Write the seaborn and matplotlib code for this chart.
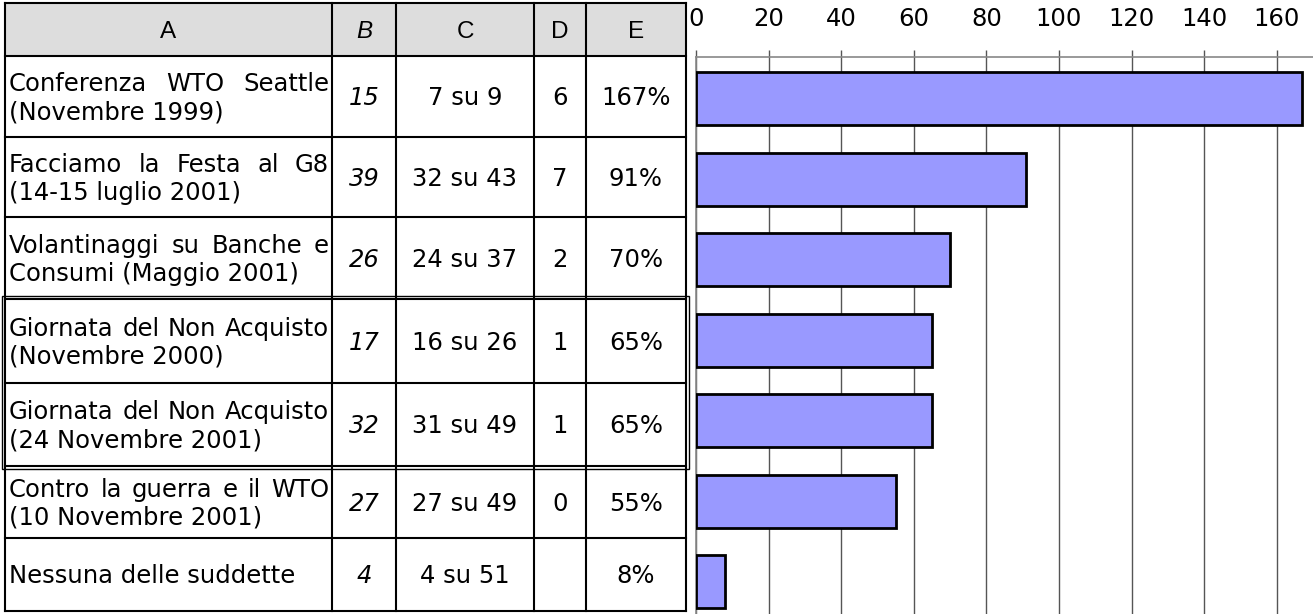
import matplotlib
matplotlib.use("Agg")
import matplotlib.pyplot as plt
from matplotlib.patches import Rectangle
import pandas as pd
import seaborn as sns

# Table contents
headers = ["A", "B", "C", "D", "E"]
events = [
    ["Conferenza WTO Seattle", "(Novembre 1999)"],
    ["Facciamo la Festa al G8", "(14-15 luglio 2001)"],
    ["Volantinaggi su Banche e", "Consumi (Maggio 2001)"],
    ["Giornata del Non Acquisto", "(Novembre 2000)"],
    ["Giornata del Non Acquisto", "(24 Novembre 2001)"],
    ["Contro la guerra e il WTO", "(10 Novembre 2001)"],
    ["Nessuna delle suddette"],
]
col_b = [15, 39, 26, 17, 32, 27, 4]
col_c = ["7 su 9", "32 su 43", "24 su 37", "16 su 26", "31 su 49", "27 su 49", "4 su 51"]
col_d = ["6", "7", "2", "1", "1", "0", ""]
col_e = [167, 91, 70, 65, 65, 55, 8]
x_ticks = [0, 20, 40, 60, 80, 100, 120, 140, 160]

W, H = 1313, 614
FONT = "DejaVu Sans"
FS = 17.5

sns.set_style("white")
plt.rcParams["font.family"] = FONT
plt.rcParams["text.color"] = "black"
plt.rcParams["xtick.color"] = "black"

fig = plt.figure(figsize=(W / 100, H / 100), dpi=100)

# ---- table, drawn in pixel coordinates ----
tab = fig.add_axes([0, 0, 1, 1])
tab.set_xlim(0, W)
tab.set_ylim(H, 0)
tab.axis("off")

col_edges = [5, 332, 396, 534, 586, 686]
row_edges = [3, 56, 137, 217, 299, 383, 466, 538, 611]

tab.add_patch(Rectangle((col_edges[0], row_edges[0]), col_edges[-1] - col_edges[0],
                        row_edges[1] - row_edges[0], facecolor="#dddddd", edgecolor="none"))
for y in row_edges:
    tab.plot([col_edges[0], col_edges[-1]], [y, y], color="black", lw=1.5, solid_capstyle="projecting")
for x in col_edges:
    tab.plot([x, x], [row_edges[0], row_edges[-1]], color="black", lw=1.5, solid_capstyle="projecting")

# double border around the two "Giornata del Non Acquisto" rows
tab.add_patch(Rectangle((col_edges[0] - 3, row_edges[4] - 3), col_edges[-1] - col_edges[0] + 6,
                        row_edges[6] - row_edges[4] + 6, facecolor="none", edgecolor="black", lw=1.0))

cap = 0.36 * FS * 100 / 72 * 2  # approx cap height in px


def centers(i, j):
    return (col_edges[i] + col_edges[i + 1]) / 2, (row_edges[j] + row_edges[j + 1]) / 2


for i, h in enumerate(headers):
    cx, cy = centers(i, 0)
    tab.text(cx, cy + cap / 2, h, ha="center", va="baseline", fontsize=FS,
             family="Liberation Sans", style="italic" if h == "B" else "normal")

fig.canvas.draw()
renderer = fig.canvas.get_renderer()
left, right = col_edges[0] + 4, col_edges[1] - 3

for r, lines in enumerate(events):
    cx, cy = centers(0, r + 1)
    if len(lines) == 1:
        tab.text(left, cy + cap / 2, lines[0], ha="left", va="baseline", fontsize=FS)
        continue
    # first line justified, second line left aligned
    base1 = cy - 14 + cap / 2
    words = lines[0].split()
    objs = [tab.text(0, base1, w, ha="left", va="baseline", fontsize=FS) for w in words]
    widths = [o.get_window_extent(renderer).width for o in objs]
    gap = (right - left - sum(widths)) / (len(words) - 1)
    x = left
    for o, w in zip(objs, widths):
        o.set_x(x)
        x += w + gap
    tab.text(left, cy + 14 + cap / 2, lines[1], ha="left", va="baseline", fontsize=FS)

for r in range(len(events)):
    cy = centers(1, r + 1)[1] + cap / 2
    tab.text(centers(1, 0)[0], cy, str(col_b[r]), ha="center", va="baseline", fontsize=FS, style="italic")
    tab.text(centers(2, 0)[0], cy, col_c[r], ha="center", va="baseline", fontsize=FS)
    tab.text(centers(3, 0)[0], cy, col_d[r], ha="center", va="baseline", fontsize=FS)
    tab.text(centers(4, 0)[0], cy, f"{col_e[r]}%", ha="center", va="baseline", fontsize=FS)

# ---- bar chart ----
x0, ytop = 696, 57
ax = fig.add_axes([x0 / W, 0, (W - x0) / W, (H - ytop) / H])
ax.set_facecolor("none")

df = pd.DataFrame({"evento": [" ".join(l) for l in events], "E": col_e})
sns.barplot(data=df, x="E", y="evento", orient="h", color="#9999ff", saturation=1,
            edgecolor="black", linewidth=2, width=0.66, ax=ax, zorder=3)

ax.set_xlim(0, 170)
ax.set_ylim(6.40, -0.516)
ax.set_xticks(x_ticks)
ax.xaxis.tick_top()
ax.tick_params(axis="x", direction="out", length=5, width=1, color="#555555",
               pad=13.5, labelsize=FS, labelcolor="black", top=True, bottom=False)
ax.set_yticks([])
ax.set_xlabel("")
ax.set_ylabel("")
for x in x_ticks:
    ax.axvline(x, color="#555555", lw=1, zorder=1)
for s in ["right", "bottom"]:
    ax.spines[s].set_visible(False)
ax.spines["top"].set_color("#888888")
ax.spines["top"].set_linewidth(1.2)
ax.spines["left"].set_color("#888888")
ax.spines["left"].set_linewidth(1.2)

fig.savefig("out.png", dpi=100)
